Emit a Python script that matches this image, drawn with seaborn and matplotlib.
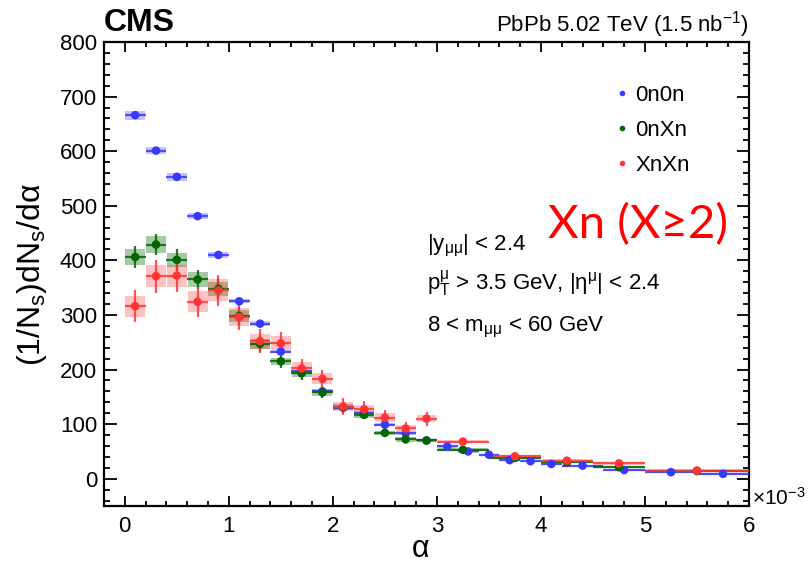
import numpy as np
import pandas as pd
import matplotlib
matplotlib.use("Agg")
import matplotlib.pyplot as plt
from matplotlib.lines import Line2D
from matplotlib.ticker import MultipleLocator
import seaborn as sns

# Bin edges in alpha (units of 1e-3)
edges_0n0n = [0.0, 0.2, 0.4, 0.6, 0.8, 1.0, 1.2, 1.4, 1.6, 1.8, 2.0, 2.2, 2.4,
              2.6, 2.8, 3.0, 3.2, 3.4, 3.6, 3.8, 4.0, 4.2, 4.6, 5.0, 5.5, 6.0]
edges_xn = [0.0, 0.2, 0.4, 0.6, 0.8, 1.0, 1.2, 1.4, 1.6, 1.8, 2.0, 2.2, 2.4,
            2.6, 2.8, 3.0, 3.5, 4.0, 4.5, 5.0, 6.0]

# 0n0n
val_0n0n = [666, 601, 553, 481, 410, 325, 284, 233, 197, 160, 130, 121, 99,
            83, 70, 59, 50, 44, 34, 32, 27, 24, 16, 12, 9]
stat_0n0n = [5, 5, 5, 5, 5, 5, 4, 4, 4, 4, 4, 4, 3, 3, 3, 3, 3, 3, 2, 2, 2, 2,
             2, 2, 2]
syst_0n0n = [8, 7, 7, 6, 5, 4, 4, 3, 3, 3, 3, 3, 3, 3, 3, 3, 3, 2, 2, 2, 2, 2,
             2, 2, 2]

# 0nXn
val_0nxn = [406, 429, 401, 365, 348, 298, 247, 215, 193, 158, 131, 117, 84,
            72, 70, 53, 38, 30, 21, 14]
stat_0nxn = [20, 20, 20, 18, 18, 16, 14, 12, 12, 10, 10, 8, 7, 6, 6, 4, 3, 3,
             2, 2]
syst_0nxn = [14, 16, 13, 13, 13, 11, 9, 7, 7, 6, 6, 5, 4, 4, 3, 3, 2, 2, 2, 2]

# XnXn
val_xnxn = [316, 371, 372, 324, 345, 296, 252, 248, 202, 183, 132, 127, 112,
            92, 110, 68, 41, 33, 28, 15]
stat_xnxn = [29, 30, 30, 28, 28, 24, 22, 20, 18, 17, 15, 15, 14, 12, 13, 6,
             4, 3, 3, 2]
syst_xnxn = [19, 20, 20, 19, 20, 16, 14, 13, 11, 10, 8, 8, 8, 7, 7, 3, 3, 3,
             3, 2]

labels = ["0n0n", "0nXn", "XnXn"]
colors = {"0n0n": "#3838ff", "0nXn": "#006600", "XnXn": "#ff3535"}
box_alpha = {"0n0n": 0.30, "0nXn": 0.35, "XnXn": 0.30}

series = {
    "0n0n": (edges_0n0n, val_0n0n, stat_0n0n, syst_0n0n),
    "0nXn": (edges_xn, val_0nxn, stat_0nxn, syst_0nxn),
    "XnXn": (edges_xn, val_xnxn, stat_xnxn, syst_xnxn),
}

frames = []
for name in labels:
    edges, val, stat, syst = series[name]
    e = np.asarray(edges)
    frames.append(pd.DataFrame({
        "alpha": 0.5 * (e[:-1] + e[1:]),
        "width": np.diff(e),
        "value": val,
        "stat": stat,
        "syst": syst,
        "sample": name,
    }))
df = pd.concat(frames, ignore_index=True)

sns.set_style("ticks")
plt.rcParams["font.family"] = ["Liberation Sans", "DejaVu Sans"]
plt.rcParams["mathtext.fontset"] = "custom"
plt.rcParams["mathtext.rm"] = "Liberation Sans"
plt.rcParams["mathtext.it"] = "Liberation Sans:italic"
plt.rcParams["mathtext.bf"] = "Liberation Sans:bold"
plt.rcParams["mathtext.default"] = "rm"
for key in ("text.color", "axes.labelcolor", "xtick.color", "ytick.color",
            "axes.edgecolor"):
    plt.rcParams[key] = "black"

fig = plt.figure(figsize=(8.10, 5.63), dpi=100)
ax = fig.add_axes([104 / 810, 57 / 563, 645 / 810, 464 / 563])

for i, name in enumerate(labels):
    d = df[df["sample"] == name]
    c = colors[name]
    # systematic boxes
    ax.bar(d["alpha"], 2 * d["syst"], width=d["width"] * 0.96,
           bottom=d["value"] - d["syst"], color=c, alpha=box_alpha[name],
           linewidth=0, zorder=2 + i * 0.1)
    # statistical bars and bin widths
    ax.errorbar(d["alpha"], d["value"], xerr=d["width"] / 2, yerr=d["stat"],
                fmt="none", ecolor=c, elinewidth=1.6, alpha=0.85, capsize=0,
                zorder=3 + i * 0.1)

sns.scatterplot(data=df, x="alpha", y="value", hue="sample",
                hue_order=labels, palette=colors, s=38, linewidth=0,
                legend=False, ax=ax, zorder=5)

ax.set_xlim(-0.2, 6.0)
ax.set_ylim(-50, 800)
ax.xaxis.set_major_locator(MultipleLocator(1))
ax.xaxis.set_minor_locator(MultipleLocator(0.2))
ax.yaxis.set_major_locator(MultipleLocator(100))
ax.yaxis.set_minor_locator(MultipleLocator(20))
ax.tick_params(axis="both", which="both", direction="in", top=True,
               right=True, width=1.3, colors="black")
ax.tick_params(axis="x", which="major", length=7, labelsize=16, pad=7)
ax.tick_params(axis="x", which="minor", length=3.5)
ax.tick_params(axis="y", which="major", length=9, labelsize=16, pad=5)
ax.tick_params(axis="y", which="minor", length=4.5)
for sp in ax.spines.values():
    sp.set_linewidth(1.6)
    sp.set_color("black")

ax.set_xlabel("")
ax.set_ylabel("(1/N$_{s}$)dN$_{s}$/dα", fontsize=23, labelpad=8)
fig.text(421 / 810, 1 - 557 / 563, "α", fontsize=22, ha="center",
         va="baseline")

# legend
handles = [Line2D([0], [0], marker="o", linestyle="none", markersize=4,
                  markerfacecolor=colors[n], markeredgewidth=0) for n in labels]
fig.legend(handles, labels, loc="upper left",
           bbox_to_anchor=(615 / 810, 1 - 85 / 563), frameon=False,
           fontsize=16, handlelength=0.6, handletextpad=0.3,
           labelspacing=0.62, borderpad=0, borderaxespad=0)

# selection text
fig.text(427 / 810, 1 - 250 / 563, "|y$_{μμ}$| < 2.4", fontsize=16,
         va="baseline")
fig.text(427 / 810, 1 - 290 / 563,
         "p$_{T}^{μ}$ > 3.5 GeV, |η$^{μ}$| < 2.4", fontsize=16,
         va="baseline")
fig.text(427 / 810, 1 - 331 / 563, "8 < m$_{μμ}$ < 60 GeV",
         fontsize=16, va="baseline")

fig.text(548 / 810, 1 - 238 / 563, "Xn (X≥2)", color="#ff0000", fontsize=34,
         family=["Lato", "DejaVu Sans"], va="baseline")

fig.text(104 / 810, 1 - 31 / 563, "CMS", fontsize=23, fontweight="bold",
         va="baseline")
fig.text(749 / 810, 1 - 31 / 563, "PbPb 5.02 TeV (1.5 nb$^{-1}$)",
         fontsize=16, ha="right", va="baseline")
fig.text(752 / 810, 1 - 498 / 563, "×10$^{-3}$", fontsize=15,
         va="center")

fig.savefig("out.png", dpi=100)
